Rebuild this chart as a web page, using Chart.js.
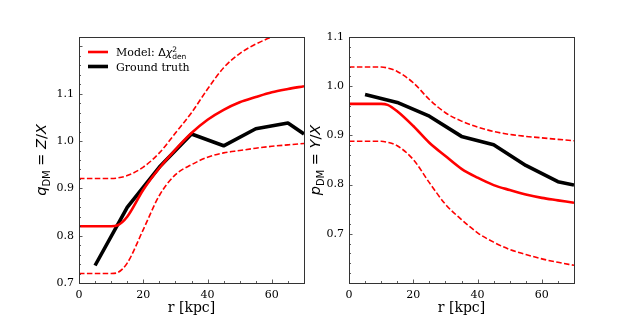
<!DOCTYPE html>
<html>
<head>
<meta charset="utf-8">
<script src="https://cdn.jsdelivr.net/npm/chart.js@4.4.1/dist/chart.umd.min.js"></script>
<style>
  html, body { margin: 0; padding: 0; background: #fff; }
  #wrap { position: relative; width: 638px; height: 319px; }
  canvas { position: absolute; top: 0; }
  #cq { left: 0; }
  #cp { left: 300px; }
</style>
</head>
<body>
<div id="wrap">
  <canvas id="cq" width="319" height="319"></canvas>
  <canvas id="cp" width="338" height="319"></canvas>
</div>
<script>
// radius sampling of the model curves and of the ground truth (kpc)
const radiusModel = [0, 5, 10, 12, 15, 20, 25, 30, 35, 40, 45, 50, 55, 60, 65, 70];
const radiusTruth = [5, 15, 25, 35, 45, 55, 65, 70];

// left panel: q_DM = Z/X
const qModel = [0.82, 0.82, 0.82, 0.822, 0.84, 0.897, 0.943, 0.982, 1.017, 1.045, 1.066, 1.082, 1.093, 1.103, 1.11, 1.116];
const qUpper = [0.921, 0.921, 0.921, 0.922, 0.927, 0.945, 0.975, 1.017, 1.06, 1.11, 1.155, 1.185, 1.205, 1.22, 1.232, 1.24];
const qLower = [0.72, 0.72, 0.72, 0.722, 0.742, 0.813, 0.885, 0.929, 0.95, 0.966, 0.975, 0.98, 0.985, 0.989, 0.992, 0.995];
const qTruth = [0.737, 0.86, 0.945, 1.015, 0.99, 1.026, 1.038, 1.015];

// right panel: p_DM = Y/X
const pModel = [0.964, 0.964, 0.964, 0.962, 0.949, 0.919, 0.885, 0.858, 0.832, 0.814, 0.799, 0.789, 0.78, 0.773, 0.768, 0.763];
const pUpper = [1.039, 1.039, 1.039, 1.037, 1.03, 1.007, 0.973, 0.946, 0.929, 0.917, 0.908, 0.902, 0.898, 0.895, 0.892, 0.889];
const pLower = [0.888, 0.888, 0.888, 0.886, 0.879, 0.851, 0.804, 0.76, 0.729, 0.702, 0.683, 0.668, 0.658, 0.649, 0.642, 0.636];
const pTruth = [0.983, 0.967, 0.939, 0.898, 0.881, 0.839, 0.806, 0.799];

// axis ticks
const xTicks = [0, 20, 40, 60];
const qTicks = [0.7, 0.8, 0.9, 1.0, 1.1];
const pTicks = [0.7, 0.8, 0.9, 1.0, 1.1];

const legendLabels = ['Model: ', 'Ground truth'];
const xTitle = 'r [kpc]';

const SERIF = "'DejaVu Serif', serif";
const SANS = "'DejaVu Sans', sans-serif";
const RED = '#ff0000';

function pts(xs, ys) {
    return xs.map((x, i) => ({ x: x, y: ys[i] }));
}

function makeDatasets(model, upper, lower, truth) {
    const dashed = { borderColor: RED, borderWidth: 1.6, borderDash: [5.5, 2.4], cubicInterpolationMode: 'monotone' };
    return [
        Object.assign({ label: 'upper', data: pts(radiusModel, upper) }, dashed),
        Object.assign({ label: 'lower', data: pts(radiusModel, lower) }, dashed),
        { label: 'Model', data: pts(radiusModel, model), borderColor: RED, borderWidth: 2.6, cubicInterpolationMode: 'monotone' },
        { label: 'Ground truth', data: pts(radiusTruth, truth), borderColor: '#000', borderWidth: 3.6, tension: 0 }
    ];
}

// runs are [text, font, dy, noAdvance]
function runsWidth(ctx, runs) {
    let w = 0;
    runs.forEach(r => {
        ctx.font = r[1];
        if (!r[3]) w += ctx.measureText(r[0]).width;
    });
    return w;
}
function drawRuns(ctx, runs, x, y) {
    let cx = x;
    runs.forEach(r => {
        ctx.font = r[1];
        ctx.fillText(r[0], cx, y + r[2]);
        if (!r[3]) cx += ctx.measureText(r[0]).width;
    });
}

// frame, inward ticks, y title, legend
const decorations = {
    id: 'decorations',
    afterDraw(chart, args, opts) {
        const ctx = chart.ctx;
        const a = chart.chartArea;
        const xs = chart.scales.x, ys = chart.scales.y;
        ctx.save();
        ctx.strokeStyle = '#333';
        ctx.lineWidth = 1;
        ctx.strokeRect(Math.round(a.left) + 0.5, Math.round(a.top) + 0.5, Math.round(a.right - a.left), Math.round(a.bottom - a.top));

        ctx.lineWidth = 0.8;
        ctx.beginPath();
        for (let v = xs.min; v <= xs.max + 1e-9; v += 5) {
            const px = Math.round(xs.getPixelForValue(v)) + 0.5;
            const len = (Math.abs(v % 20) < 1e-9) ? 3.5 : 2;
            ctx.moveTo(px, a.bottom);
            ctx.lineTo(px, a.bottom - len);
        }
        const yStart = Math.ceil(ys.min / 0.02 - 1e-6) * 0.02;
        for (let v = yStart; v <= ys.max + 1e-9; v += 0.02) {
            const py = Math.round(ys.getPixelForValue(v)) + 0.5;
            const isMajor = Math.abs(Math.round(v * 10) - v * 10) < 1e-6;
            ctx.moveTo(a.left, py);
            ctx.lineTo(a.left + (isMajor ? 3.5 : 2), py);
        }
        ctx.stroke();

        // y axis title (math style)
        ctx.fillStyle = '#000';
        ctx.textBaseline = 'alphabetic';
        ctx.textAlign = 'left';
        const it = 'oblique 14.5px ' + SANS, up = '14.5px ' + SANS, sub = '10px ' + SANS;
        const runs = [[opts.sym, it, 0], ['DM', sub, 3.5], [' = ', up, 0], [opts.num, it, 0], ['/', up, 0], ['X', it, 0]];
        const w = runsWidth(ctx, runs);
        ctx.translate(opts.titleX, (a.top + a.bottom) / 2);
        ctx.rotate(-Math.PI / 2);
        drawRuns(ctx, runs, -w / 2, 5);
        ctx.restore();

        if (opts.legend) {
            ctx.save();
            const lx = 88, rows = [52, 66.5];
            const sets = chart.data.datasets;
            [2, 3].forEach((di, k) => {
                ctx.strokeStyle = sets[di].borderColor;
                ctx.lineWidth = sets[di].borderWidth;
                ctx.beginPath();
                ctx.moveTo(lx, rows[k]);
                ctx.lineTo(lx + 20, rows[k]);
                ctx.stroke();
            });
            ctx.fillStyle = '#000';
            ctx.textBaseline = 'alphabetic';
            ctx.textAlign = 'left';
            const lf = '11px ' + SERIF;
            const first = [[legendLabels[0], lf, 0], ['\u0394', '11px ' + SANS, 0], ['\u03c7', 'oblique 11px ' + SANS, 0],
                           ['2', '7.5px ' + SANS, -4.5, true], ['den', '7.5px ' + SANS, 2.5]];
            drawRuns(ctx, first, 116, rows[0] + 4);
            drawRuns(ctx, [[legendLabels[1], lf, 0]], 116, rows[1] + 4);
            ctx.restore();
        }
    }
};

function makeChart(id, model, upper, lower, truth, yMin, yMax, yTicks, yWidth, rightPad, opts) {
    return new Chart(document.getElementById(id), {
        type: 'line',
        data: { datasets: makeDatasets(model, upper, lower, truth) },
        plugins: [decorations],
        options: {
            responsive: false,
            animation: false,
            events: [],
            elements: { point: { radius: 0 }, line: { borderCapStyle: 'butt', borderJoinStyle: 'round' } },
            layout: { padding: { left: 0, top: 37, right: rightPad, bottom: 0 } },
            plugins: {
                legend: { display: false },
                tooltip: { enabled: false },
                decorations: opts
            },
            scales: {
                x: {
                    type: 'linear',
                    min: 0, max: 70,
                    grid: { display: false, drawTicks: false },
                    border: { display: false },
                    afterBuildTicks: s => { s.ticks = xTicks.map(v => ({ value: v })); },
                    afterFit: s => { s.height = 36; },
                    ticks: { padding: 6, color: '#000', font: { family: SERIF, size: 11 }, maxRotation: 0, autoSkip: false },
                    title: { display: true, text: xTitle, color: '#000', font: { family: SERIF, size: 14 }, padding: { top: 0, bottom: 2 } }
                },
                y: {
                    type: 'linear',
                    min: yMin, max: yMax,
                    grid: { display: false, drawTicks: false },
                    border: { display: false },
                    afterBuildTicks: s => { s.ticks = yTicks.map(v => ({ value: v })); },
                    afterFit: s => { s.width = yWidth; },
                    ticks: { padding: 5, color: '#000', font: { family: SERIF, size: 11 }, autoSkip: false,
                             callback: v => Number(v).toFixed(1) }
                }
            }
        }
    });
}

makeChart('cq', qModel, qUpper, qLower, qTruth, 0.7, 1.22, qTicks, 79, 15,
          { sym: 'q', num: 'Z', titleX: 41, legend: true });
makeChart('cp', pModel, pUpper, pLower, pTruth, 0.6, 1.1, pTicks, 49, 64,
          { sym: 'p', num: 'Y', titleX: 15, legend: false });
</script>
</body>
</html>
